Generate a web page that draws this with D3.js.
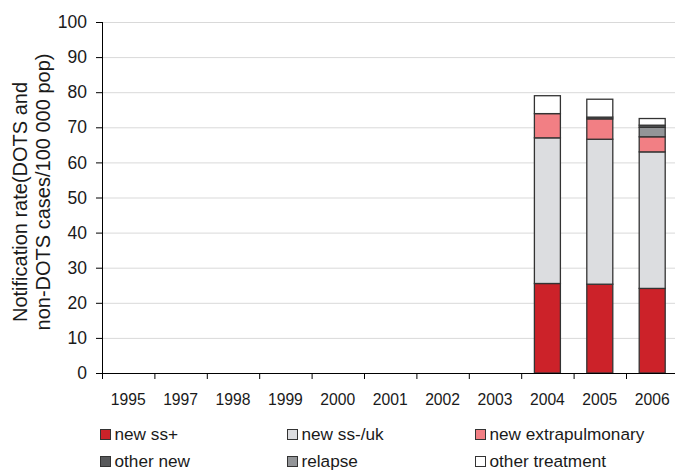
<!DOCTYPE html>
<html><head><meta charset="utf-8">
<script src="https://cdn.jsdelivr.net/npm/d3@7"></script>
<style>
html,body{margin:0;padding:0;background:#fff;}
svg{display:block;font-family:"Liberation Sans",Arial,sans-serif;}
</style></head>
<body><svg id="c" width="675" height="470"></svg>
<script>
const years = ["1995","1997","1998","1999","2000","2001","2002","2003","2004","2005","2006"];
const newSsPos   = [0,0,0,0,0,0,0,0,25.5,25.3,24.1];
const newSsNeg   = [0,0,0,0,0,0,0,0,41.5,41.3,38.9];
const newExtra   = [0,0,0,0,0,0,0,0,6.9,5.8,4.3];
const otherNew   = [0,0,0,0,0,0,0,0,0,0.5,0.6];
const relapse    = [0,0,0,0,0,0,0,0,0,0,2.7];
const otherTreat = [0,0,0,0,0,0,0,0,5.1,5.1,1.9];
const yTicks = [0,10,20,30,40,50,60,70,80,90,100];

const series = [
  {key:"newSsPos", name:"new ss+", values:newSsPos, color:"#cc2229"},
  {key:"newSsNeg", name:"new ss-/uk", values:newSsNeg, color:"#dcdde0"},
  {key:"newExtra", name:"new extrapulmonary", values:newExtra, color:"#f27f84"},
  {key:"otherNew", name:"other new", values:otherNew, color:"#58595b"},
  {key:"relapse", name:"relapse", values:relapse, color:"#939598"},
  {key:"otherTreat", name:"other treatment", values:otherTreat, color:"#ffffff"}
];
const stackOrder = ["newSsPos","newSsNeg","newExtra","relapse","otherNew","otherTreat"];

const table = years.map((yr,i)=>{
  const r={year:yr};
  series.forEach(s=>r[s.key]=s.values[i]);
  return r;
});

const svg = d3.select("#c");
const pL=102, pR=678.4, pT=22, pB=373;
const x = d3.scaleBand().domain(years).range([pL,pR]).paddingInner(0).paddingOuter(0);
const y = d3.scaleLinear().domain([0,100]).range([pB,pT]);
const txt = "#1a1a1a";

// gridlines
svg.append("g").selectAll("line").data(yTicks.filter(t=>t>0)).join("line")
  .attr("x1",pL).attr("x2",675).attr("y1",d=>y(d)+0.5).attr("y2",d=>y(d)+0.5)
  .attr("stroke","#d9d9d9").attr("stroke-width",1);

// bars
const stack = d3.stack().keys(stackOrder)(table);
const colorOf = Object.fromEntries(series.map(s=>[s.key,s.color]));
const bw = 26;
svg.append("g").selectAll("g").data(stack).join("g")
  .attr("fill",d=>colorOf[d.key])
  .selectAll("rect").data(d=>d.filter(p=>p[1]-p[0]>0)).join("rect")
  .attr("x",d=>x(d.data.year)+x.bandwidth()/2-bw/2)
  .attr("width",bw)
  .attr("y",d=>y(d[1]))
  .attr("height",d=>y(d[0])-y(d[1]))
  .attr("stroke","#333")
  .attr("stroke-width",1.3);

// y axis
const yAxis = d3.axisLeft(y).tickValues(yTicks).tickSize(6).tickPadding(9);
const gy = svg.append("g").attr("transform",`translate(${pL},0)`).call(yAxis);
gy.select(".domain").attr("stroke","#000").attr("d",`M0.5,${pT}V${pB}`);
gy.selectAll(".tick line").attr("stroke","#000");
gy.selectAll(".tick text").attr("font-size","17.5px").attr("fill",txt)
  .attr("font-family","'Liberation Sans',Arial,sans-serif");

// x axis
const xAxis = d3.axisBottom(x).tickSize(0).tickPadding(21);
const gx = svg.append("g").attr("transform",`translate(0,${pB})`).call(xAxis);
gx.select(".domain").attr("stroke","#000").attr("d",`M${pL},0.5H675`);
gx.selectAll(".tick text").attr("font-size","15.7px").attr("fill",txt)
  .attr("font-family","'Liberation Sans',Arial,sans-serif");
// boundary ticks
const bounds = years.map(d=>x(d)).concat([x.range()[1]]);
gx.append("g").selectAll("line").data(bounds).join("line")
  .attr("x1",d=>d+0.5).attr("x2",d=>d+0.5).attr("y1",0).attr("y2",6)
  .attr("stroke","#000");

// y title
const yt = svg.append("text").attr("transform","translate(27,197) rotate(-90)")
  .attr("text-anchor","middle").attr("font-size","20px").attr("fill",txt);
yt.append("tspan").attr("x",-5).attr("y",0).text("Notification rate(DOTS and");
yt.append("tspan").attr("x",5).attr("y",23).text("non-DOTS cases/100 000 pop)");

// legend
const legX = [100,287,475];
const legY = [429,456];
const lg = svg.append("g").selectAll("g").data(series).join("g")
  .attr("transform",(d,i)=>`translate(${legX[i%3]},${legY[Math.floor(i/3)]})`);
lg.append("rect").attr("x",0.5).attr("y",0.5).attr("width",10).attr("height",10)
  .attr("fill",d=>d.color).attr("stroke","#333").attr("stroke-width",1);
lg.append("text").attr("x",14.5).attr("y",11).attr("font-size","17.2px").attr("fill",txt)
  .text(d=>d.name);
</script></body></html>
